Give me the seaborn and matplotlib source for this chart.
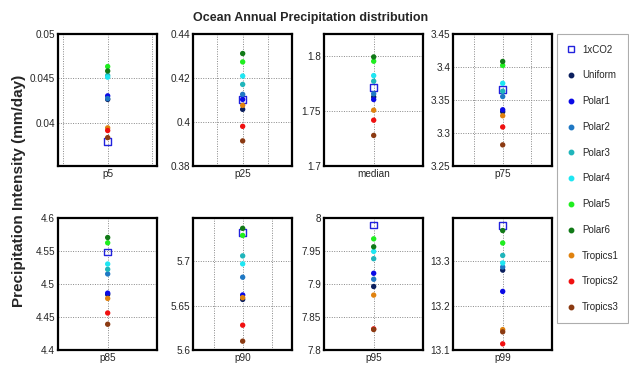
import matplotlib
matplotlib.use("Agg")
import matplotlib.pyplot as plt
from matplotlib.lines import Line2D
from matplotlib.ticker import MultipleLocator, FormatStrFormatter
import seaborn as sns
import pandas as pd

# runs and colours
runs = ["1xCO2", "Uniform", "Polar1", "Polar2", "Polar3", "Polar4",
        "Polar5", "Polar6", "Tropics1", "Tropics2", "Tropics3"]
run_colors = ["#2222dd", "#0b1f5e", "#0a0ae6", "#1f78c4", "#1fb5bb", "#1ee6f2",
              "#1fee1f", "#117a17", "#e0820f", "#f01010", "#8b3a12"]

stats = ["p5", "p25", "median", "p75", "p85", "p90", "p95", "p99"]

# values per statistic, in the order of runs
p5 = [0.0379, 0.0426, 0.0430, 0.0427, 0.0453, 0.0451, 0.0463, 0.0458, 0.0394, 0.0391, 0.0383]
p25 = [0.4100, 0.4057, 0.4102, 0.4125, 0.4170, 0.4208, 0.4272, 0.4310, 0.4075, 0.3980, 0.3914]
median = [1.7718, 1.7630, 1.7606, 1.7658, 1.7773, 1.7824, 1.7955, 1.7994, 1.7509, 1.7418, 1.7279]
p75 = [3.366, 3.332, 3.335, 3.355, 3.363, 3.375, 3.402, 3.408, 3.326, 3.309, 3.282]
p85 = [4.548, 4.484, 4.486, 4.515, 4.522, 4.530, 4.562, 4.570, 4.478, 4.456, 4.439]
p90 = [5.732, 5.657, 5.662, 5.682, 5.706, 5.697, 5.729, 5.737, 5.659, 5.628, 5.610]
p95 = [7.989, 7.896, 7.916, 7.907, 7.938, 7.949, 7.968, 7.956, 7.883, 7.832, 7.831]
p99 = [13.380, 13.280, 13.232, 13.287, 13.313, 13.296, 13.341, 13.369, 13.146, 13.114, 13.141]
values = [p5, p25, median, p75, p85, p90, p95, p99]

# axis ranges and tick steps for each panel
y_limits = [(0.0351, 0.05), (0.38, 0.44), (1.7, 1.8206), (3.25, 3.45),
            (4.4, 4.6), (5.6, 5.749), (7.8, 8.0), (13.1, 13.398)]
y_steps = [0.005, 0.02, 0.05, 0.05, 0.05, 0.05, 0.05, 0.1]
x_half = [1.11, 1.96, 0.9, 1.74, 0.9, 1.72, 0.9, 0.9]

rows = []
for stat, vals in zip(stats, values):
    for run, v in zip(runs, vals):
        rows.append({"stat": stat, "run": run, "value": v, "x": 0})
df = pd.DataFrame(rows)

sns.set_style("white")
plt.rcParams["font.family"] = ["Liberation Sans", "DejaVu Sans"]

fig = plt.figure(figsize=(6.29, 3.74), dpi=100)

lefts = [0.0922, 0.3068, 0.5151, 0.7202]
width = 0.158
bottoms = [0.556, 0.064]
height = 0.354

palette = dict(zip(runs, run_colors))

for i, stat in enumerate(stats):
    ax = fig.add_axes([lefts[i % 4], bottoms[i // 4], width, height])
    sub = df[df["stat"] == stat]
    ctrl = sub[sub["run"] == "1xCO2"]
    rest = sub[sub["run"] != "1xCO2"]
    sns.scatterplot(data=ctrl, x="x", y="value", marker="s", s=24,
                    color="none", edgecolor=run_colors[0], linewidth=1.0,
                    ax=ax, legend=False, zorder=3)
    sns.scatterplot(data=rest, x="x", y="value", hue="run", palette=palette,
                    s=15, edgecolor="none", ax=ax, legend=False, zorder=3)
    ax.set_xlim(-x_half[i], x_half[i])
    ax.set_ylim(*y_limits[i])
    ax.set_xticks([-1, 0, 1])
    ax.set_xticklabels(["", stat, ""])
    ax.yaxis.set_major_locator(MultipleLocator(y_steps[i]))
    ax.yaxis.set_major_formatter(FormatStrFormatter("%g"))
    ax.set_xlabel("")
    ax.set_ylabel("")
    ax.grid(True, color="#888888", linestyle=(0, (1, 1.5)), linewidth=0.7)
    ax.tick_params(labelsize=7.2, length=2, direction="in", pad=2)
    for sp in ax.spines.values():
        sp.set_linewidth(1.6)
        sp.set_color("black")

fig.text(0.493, 0.952, "Ocean Annual Precipitation distribution",
         ha="center", va="center", fontsize=9, fontweight="bold")
fig.text(0.03, 0.49, "Precipitation Intensity (mm/day)", rotation=90,
         ha="center", va="center", fontsize=11, fontweight="bold")

handles = [Line2D([], [], marker="s", linestyle="none", markersize=5,
                  markerfacecolor="none", markeredgecolor=run_colors[0],
                  markeredgewidth=1.0, label=runs[0])]
for run, c in zip(runs[1:], run_colors[1:]):
    handles.append(Line2D([], [], marker="o", linestyle="none", markersize=3.2,
                          markerfacecolor=c, markeredgecolor=c, label=run))
leg = fig.legend(handles=handles, loc="upper left",
                 bbox_to_anchor=(0.885, 0.144, 0.113, 0.765), mode="expand",
                 fontsize=7, frameon=True, fancybox=False, labelspacing=1.62,
                 handlelength=0.8, handletextpad=0.7, borderpad=1.1,
                 borderaxespad=0)
leg.get_frame().set_edgecolor("#999999")
leg.get_frame().set_linewidth(0.8)

fig.savefig("out.png", dpi=100)
